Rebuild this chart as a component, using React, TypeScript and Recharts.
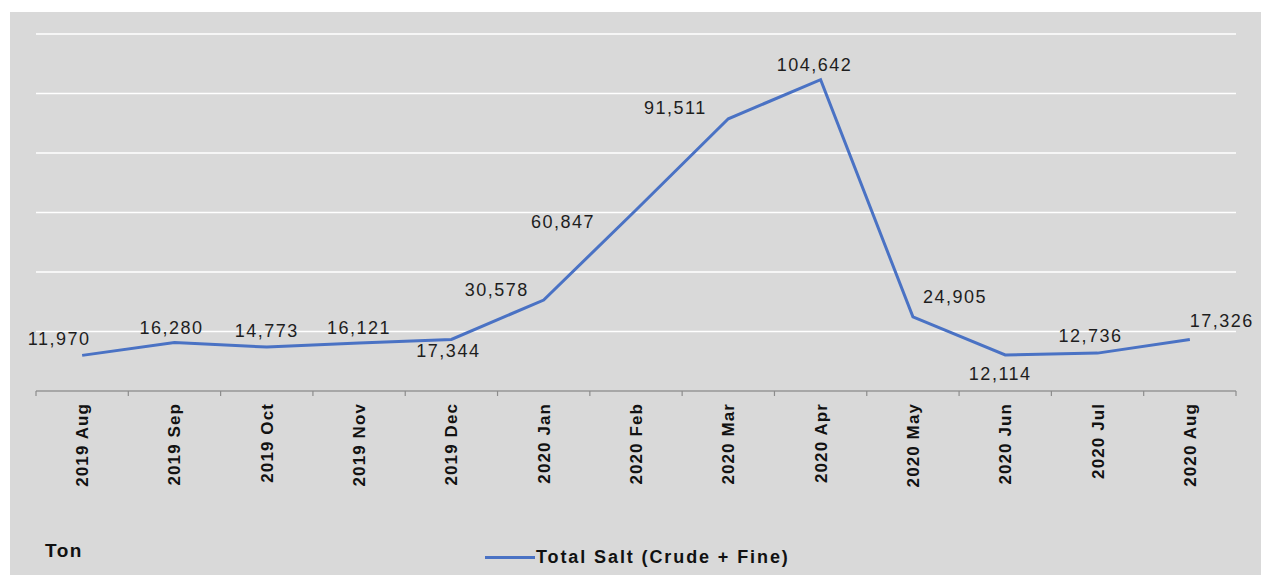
import React from 'react';
import { LineChart, Line, XAxis, YAxis, CartesianGrid, LabelList, Legend } from 'recharts';

const months = [
  '2019 Aug', '2019 Sep', '2019 Oct', '2019 Nov', '2019 Dec',
  '2020 Jan', '2020 Feb', '2020 Mar', '2020 Apr', '2020 May',
  '2020 Jun', '2020 Jul', '2020 Aug',
];
const totalSalt = [11970, 16280, 14773, 16121, 17344, 30578, 60847, 91511, 104642, 24905, 12114, 12736, 17326];
const yTicks = [0, 20000, 40000, 60000, 80000, 100000, 120000];
const seriesName = 'Total Salt (Crude + Fine)';
const unitLabel = 'Ton';

// label placement offsets relative to each point (styling only)
const labelDx = [-23, -3, 0, 0, -3, -47, -73, -53, -6, 42, -5, -7, 32];
const labelDy = [-16, -15, -16, -15, 12, -10, 12, -11, -15, -20, 19, -17, -18];

const data = months.map((m, i) => ({ month: m, value: totalSalt[i] }));

const FONT = '"Liberation Sans", Arial, sans-serif';
const LINE_COLOR = '#4A72C4';
const PLOT_WIDTH = 1200;
const HALF_BAND = PLOT_WIDTH / months.length / 2;

const MonthTick = (props: any) => {
  const { x, y, payload, index, visibleTicksCount } = props;
  const count = visibleTicksCount || months.length;
  const band = HALF_BAND * 2;
  return (
    <g>
      <line x1={x - band / 2} x2={x - band / 2} y1={y} y2={y + 5} stroke="#8c8c8c" strokeWidth={1.2} />
      {index === count - 1 && (
        <line x1={x + band / 2} x2={x + band / 2} y1={y} y2={y + 5} stroke="#8c8c8c" strokeWidth={1.2} />
      )}
      <text
        transform={`translate(${x + 6},${y + 12}) rotate(-90)`}
        textAnchor="end"
        fontFamily={FONT}
        fontWeight="bold"
        fontSize={17}
        letterSpacing={1.1}
        fill="#111"
      >
        {payload.value}
      </text>
    </g>
  );
};

const ValueLabel = (props: any) => {
  const { x, y, value, index } = props;
  return (
    <text
      x={x + labelDx[index]}
      y={y + labelDy[index]}
      textAnchor="middle"
      dominantBaseline="central"
      fontFamily={FONT}
      fontSize={18}
      letterSpacing={1.5}
      fill="#1e1e1e"
    >
      {Number(value).toLocaleString('en-US')}
    </text>
  );
};

const renderLegend = () => (
  <div style={{ position: 'relative', width: 1261, height: 0 }}>
    <div
      style={{
        position: 'absolute', left: 45, top: 539, fontFamily: FONT, fontWeight: 'bold',
        fontSize: 19, letterSpacing: 1.5, color: '#111', lineHeight: '24px', whiteSpace: 'nowrap',
      }}
    >
      {unitLabel}
    </div>
    <div
      style={{
        position: 'absolute', left: 485, top: 545, display: 'flex', alignItems: 'center',
        height: 24, whiteSpace: 'nowrap',
      }}
    >
      <span style={{ display: 'inline-block', width: 50, height: 3, background: LINE_COLOR }} />
      <span
        style={{
          fontFamily: FONT, fontWeight: 'bold', fontSize: 18, letterSpacing: 1.9, color: '#111',
          marginLeft: 1, lineHeight: '24px',
        }}
      >
        {seriesName}
      </span>
    </div>
  </div>
);

export default function App() {
  return (
    <div style={{ position: 'absolute', left: 0, top: 0, width: 1261, height: 575, background: '#ffffff', overflow: 'hidden' }}>
      <div style={{ position: 'absolute', left: 10, top: 12, width: 1251, height: 563, background: '#d9d9d9' }} />
      <div style={{ position: 'absolute', left: 0, top: 0 }}>
        <LineChart
          width={1261}
          height={575}
          data={data}
          margin={{ top: 34, right: 25, left: 36, bottom: 34 }}
        >
          <CartesianGrid vertical={false} stroke="#ffffff" strokeWidth={1.5} />
          <YAxis hide domain={[0, 120000]} ticks={yTicks} />
          <XAxis
            dataKey="month"
            interval={0}
            height={150}
            tickSize={0}
            tickMargin={0}
            tickLine={false}
            padding={{ left: HALF_BAND, right: HALF_BAND }}
            axisLine={{ stroke: '#8c8c8c', strokeWidth: 1.5 }}
            tick={<MonthTick />}
          />
          <Legend
            content={renderLegend}
            wrapperStyle={{ position: 'absolute', left: 0, top: 0, width: 1261, height: 0, overflow: 'visible' }}
          />
          <Line
            type="linear"
            dataKey="value"
            name={seriesName}
            stroke={LINE_COLOR}
            strokeWidth={3}
            dot={false}
            activeDot={false}
            isAnimationActive={false}
          >
            <LabelList dataKey="value" content={<ValueLabel />} />
          </Line>
        </LineChart>
      </div>
    </div>
  );
}
